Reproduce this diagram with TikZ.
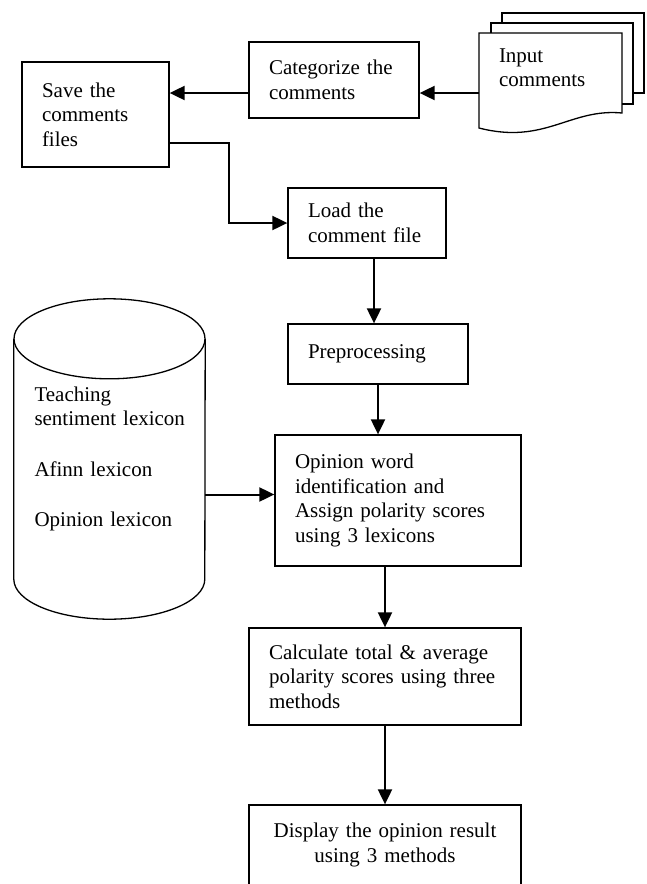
\documentclass[tikz,border=0pt]{standalone}
\usepackage{fontspec}
\setmainfont{Liberation Serif}
\usetikzlibrary{arrows.meta}

\begin{document}
\begin{tikzpicture}[x=1pt,y=-1pt,
  font=\fontsize{21}{24.5}\selectfont,
  box/.style={draw,line width=1.3pt,align=left,inner xsep=20pt},
  arrow/.style={-{Triangle[length=15pt,width=14pt]},line width=2pt}]
\useasboundingbox (0,0) rectangle (647,884);
% ---------- top row ----------
\coordinate (row1) at (0,93);
\node[box,text width=107pt,minimum height=105pt] (save) at (95.5,114.5) {Save the\\comments\\files};
\node[box,text width=130pt,minimum height=76pt] (categorize) at (334,80) {Categorize the\\comments};
% stacked input sheets
\draw[line width=1.3pt] (502,23) -- (502,13) -- (644,13) -- (644,93) -- (633,93);
\draw[line width=1.3pt] (491,33) -- (491,23) -- (633,23) -- (633,104) -- (622,104);
\draw[line width=1.3pt] (479,128) -- (479,33) -- (622,33) -- (622,113)
    .. controls (570,108) and (545,145) .. cycle;
\node[align=left,text width=103pt,inner xsep=20pt] (input) at (550.5,67.5) {Input\\comments};
\draw[arrow] (input.west |- row1) -- (categorize.east |- row1);
\draw[arrow] (categorize.west |- row1) -- (save.east |- row1);
% ---------- main column ----------
\node[box,text width=118pt,minimum height=70pt] (load) at (367,223) {Load the\\comment file};
\draw[arrow] ([yshift=-28pt]save.east) -- ++(59,0) |- (load.west);
\node[box,text width=140pt,minimum height=60pt] (prep) at (378,354) {Preprocessing};
\draw[arrow] ([xshift=7pt]load.south) -- ([xshift=7pt]load.south |- prep.north);
\node[box,text width=206pt,minimum height=131pt] (opinion) at (398,500.5)
    {Opinion word\\identification and\\Assign polarity scores\\using 3 lexicons};
\draw[arrow] (prep.south) -- (prep.south |- opinion.north);
\node[box,text width=232pt,minimum height=97pt] (calc) at (385,676.5)
    {Calculate total \& average\\polarity scores using three\\methods};
\draw[arrow] (calc.north |- opinion.south) -- (calc.north);
\node[box,align=center,text width=232pt,minimum height=80pt] (display) at (385,845)
    {Display the opinion result\\using 3 methods};
\draw[arrow] (calc.south) -- (display.north);
% ---------- lexicon store ----------
\node[align=left,text width=150pt,inner xsep=20.5pt,minimum height=320pt] (lexicons) at (109.5,459)
    {Teaching\\\mbox{sentiment lexicon}\\[26pt]Afinn lexicon\\[26pt]Opinion lexicon};
\draw[line width=1.3pt] ([yshift=-40pt]lexicons.north) ellipse [x radius=95.5pt,y radius=40pt];
\draw[line width=1.3pt] ([yshift=-40pt]lexicons.north west) -- ([yshift=40pt]lexicons.south west)
    arc[start angle=180,end angle=360,x radius=95.5pt,y radius=40pt]
    -- ([yshift=-40pt]lexicons.north east);
\draw[arrow] ([yshift=6pt]lexicons.east |- opinion.west) -- ([yshift=6pt]opinion.west);
\end{tikzpicture}
\end{document}
